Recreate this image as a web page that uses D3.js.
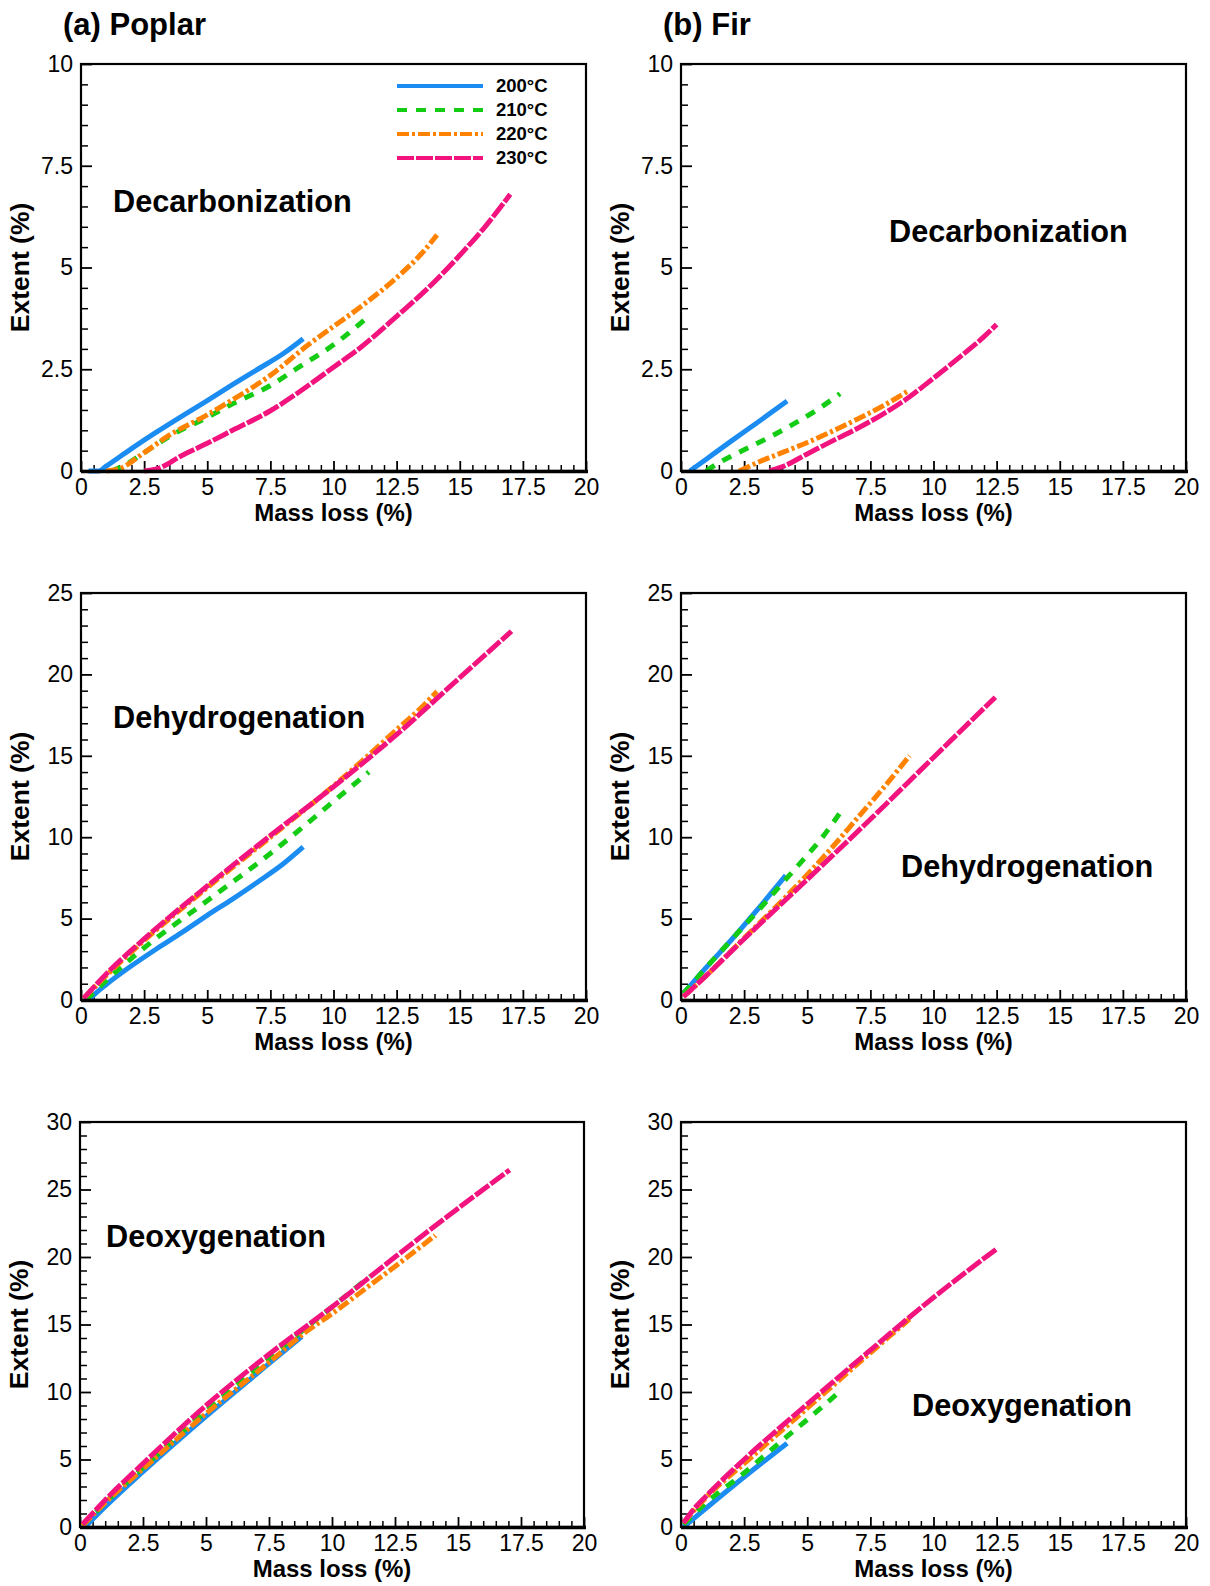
<!DOCTYPE html>
<html>
<head>
<meta charset="utf-8">
<script src="https://cdn.jsdelivr.net/npm/d3@7"></script>
<style>
  html, body { margin: 0; padding: 0; background: #fff; }
  svg { display: block; }
  text { font-family: "Liberation Sans", Arial, Helvetica, sans-serif; fill: #000; }
</style>
</head>
<body>
<svg id="chart" width="1210" height="1586"></svg>
<script>
// ---------------- DATA ----------------
const seriesNames = ["200°C", "210°C", "220°C", "230°C"];
const xTickValues = [0, 2.5, 5, 7.5, 10, 12.5, 15, 17.5, 20];
const xTickLabels = ["0", "2.5", "5", "7.5", "10", "12.5", "15", "17.5", "20"];
const yTicksDecarb = [0, 2.5, 5, 7.5, 10];
const yLabelsDecarb = ["0", "2.5", "5", "7.5", "10"];
const yTicksDehydro = [0, 5, 10, 15, 20, 25];
const yLabelsDehydro = ["0", "5", "10", "15", "20", "25"];
const yTicksDeoxy = [0, 5, 10, 15, 20, 25, 30];
const yLabelsDeoxy = ["0", "5", "10", "15", "20", "25", "30"];

// (mass loss %, extent %)
const poplarDecarb200 = [[0.3,0],[0.7,0],[1.0,0.12],[2.0,0.55],[3.0,0.96],[4.0,1.35],[5.0,1.73],[6.0,2.12],[7.0,2.5],[8.0,2.88],[8.8,3.25]];
const poplarDecarb210 = [[1.2,0],[1.6,0.1],[2.5,0.45],[3.5,0.85],[5.0,1.32],[6.0,1.65],[7.5,2.1],[8.5,2.5],[10.0,3.1],[11.3,3.75]];
const poplarDecarb220 = [[1.0,0],[1.5,0.05],[2.5,0.45],[3.5,0.88],[5.0,1.38],[6.0,1.75],[7.5,2.35],[9.0,3.1],[10.0,3.55],[11.0,4.0],[12.5,4.75],[13.5,5.35],[14.1,5.8]];
const poplarDecarb230 = [[2.5,0],[3.0,0.05],[4.0,0.38],[5.0,0.68],[6.0,1.0],[7.5,1.48],[9.0,2.1],[10.0,2.55],[11.0,3.0],[12.5,3.8],[14.0,4.65],[15.0,5.3],[16.0,6.0],[17.0,6.8]];

const firDecarb200 = [[0.35,0],[1.0,0.29],[2.0,0.74],[3.0,1.18],[4.2,1.72]];
const firDecarb210 = [[1.0,0],[1.5,0.2],[2.5,0.52],[3.5,0.83],[4.5,1.17],[5.5,1.55],[6.3,1.9]];
const firDecarb220 = [[2.3,0],[3.0,0.2],[4.0,0.45],[5.0,0.7],[6.0,0.98],[7.0,1.28],[8.0,1.6],[9.0,1.97]];
const firDecarb230 = [[3.5,0],[4.0,0.1],[5.0,0.42],[6.0,0.74],[7.0,1.05],[8.0,1.4],[9.0,1.8],[10.0,2.28],[11.0,2.78],[12.0,3.3],[12.5,3.6]];

const poplarDehydro200 = [[0.3,0],[0.5,0.3],[1.0,0.95],[2.0,2.1],[3.0,3.15],[4.0,4.15],[5.0,5.2],[6.0,6.2],[7.0,7.25],[8.0,8.35],[8.8,9.4]];
const poplarDehydro210 = [[0.2,0],[1.0,1.2],[2.5,3.2],[5.0,6.1],[7.5,9.0],[9.0,10.9],[10.0,12.2],[11.4,14.0]];
const poplarDehydro220 = [[0.1,0.1],[1.0,1.5],[2.5,3.65],[5.0,6.9],[7.5,10.0],[10.0,13.15],[12.5,16.6],[13.5,18.0],[14.1,18.95]];
const poplarDehydro230 = [[0.1,0.1],[1.0,1.6],[2.5,3.75],[5.0,7.0],[7.5,10.1],[10.0,13.1],[12.5,16.3],[15.0,19.8],[17.05,22.65]];

const firDehydro200 = [[0.1,0.4],[1.0,2.0],[2.0,3.7],[3.0,5.5],[4.15,7.65]];
const firDehydro210 = [[0.1,0.4],[1.0,2.0],[2.0,3.7],[3.0,5.4],[4.2,7.5],[5.0,8.9],[5.5,9.8],[6.3,11.5]];
const firDehydro220 = [[0.1,0.2],[1.0,1.5],[2.5,3.8],[4.0,6.1],[5.0,7.7],[6.0,9.4],[7.0,11.2],[8.0,13.0],[9.05,15.0]];
const firDehydro230 = [[0.1,0.2],[1.0,1.5],[2.5,3.75],[5.0,7.4],[7.5,11.1],[10.0,14.9],[12.45,18.6]];

const poplarDeoxy200 = [[0.2,0],[1.0,1.5],[2.5,4.1],[5.0,8.2],[7.5,12.1],[8.8,14.1]];
const poplarDeoxy210 = [[0.1,0.1],[1.0,1.8],[2.5,4.4],[5.0,8.6],[7.5,12.5],[9.0,14.8],[10.0,16.3],[11.5,18.55]];
const poplarDeoxy220 = [[0.1,0.1],[1.0,1.8],[2.5,4.3],[5.0,8.4],[7.5,12.2],[9.0,14.5],[10.0,15.8],[11.5,17.9],[12.5,19.3],[14.1,21.6]];
const poplarDeoxy230 = [[0.1,0.2],[1.0,2.0],[2.5,4.7],[5.0,9.0],[7.5,12.8],[10.0,16.3],[12.5,20.0],[15.0,23.6],[17.05,26.45]];

const firDeoxy200 = [[0.1,0],[1.0,1.4],[2.5,3.7],[4.2,6.2]];
const firDeoxy210 = [[0.1,0.2],[1.0,1.8],[2.5,4.0],[4.0,6.4],[5.0,7.95],[6.3,10.05]];
const firDeoxy220 = [[0.1,0.3],[0.5,1.2],[1.0,2.2],[2.5,4.7],[5.0,8.8],[7.5,12.9],[9.05,15.4]];
const firDeoxy230 = [[0.1,0.3],[0.5,1.3],[1.0,2.3],[2.5,5.0],[5.0,9.1],[7.5,13.1],[10.0,17.0],[12.5,20.6]];

// ---------------- STYLE ----------------
const colors = ["#1b8cf2", "#14cc14", "#ff8200", "#f2137f"];
const dashes = [null, "10 9", "12 3 3 3", "17 2"];

const panels = [
  { box: [81, 64, 586, 471],   yMax: 10, yT: yTicksDecarb,  yL: yLabelsDecarb,  yMinorStep: 0.5, series: [poplarDecarb200, poplarDecarb210, poplarDecarb220, poplarDecarb230],
    label: "Decarbonization", lx: 113, ly: 212, title: "(a) Poplar", legend: true },
  { box: [681, 64, 1186, 471], yMax: 10, yT: yTicksDecarb,  yL: yLabelsDecarb,  yMinorStep: 0.5, series: [firDecarb200, firDecarb210, firDecarb220, firDecarb230],
    label: "Decarbonization", lx: 889, ly: 242, title: "(b) Fir" },
  { box: [81, 593, 586, 1000], yMax: 25, yT: yTicksDehydro, yL: yLabelsDehydro, yMinorStep: 1, series: [poplarDehydro200, poplarDehydro210, poplarDehydro220, poplarDehydro230],
    label: "Dehydrogenation", lx: 113, ly: 728 },
  { box: [681, 593, 1186, 1000], yMax: 25, yT: yTicksDehydro, yL: yLabelsDehydro, yMinorStep: 1, series: [firDehydro200, firDehydro210, firDehydro220, firDehydro230],
    label: "Dehydrogenation", lx: 901, ly: 877 },
  { box: [80, 1122, 584, 1527], yMax: 30, yT: yTicksDeoxy, yL: yLabelsDeoxy, yMinorStep: 1, series: [poplarDeoxy200, poplarDeoxy210, poplarDeoxy220, poplarDeoxy230],
    label: "Deoxygenation", lx: 106, ly: 1247 },
  { box: [681, 1122, 1186, 1527], yMax: 30, yT: yTicksDeoxy, yL: yLabelsDeoxy, yMinorStep: 1, series: [firDeoxy200, firDeoxy210, firDeoxy220, firDeoxy230],
    label: "Deoxygenation", lx: 912, ly: 1416 }
];

const svg = d3.select("#chart");
svg.append("rect").attr("width", 1210).attr("height", 1586).attr("fill", "#fff");

panels.forEach(p => {
  const [x0, y0, x1, y1] = p.box;
  const x = d3.scaleLinear().domain([0, 20]).range([x0, x1]);
  const y = d3.scaleLinear().domain([0, p.yMax]).range([y1, y0]);
  const g = svg.append("g");

  // minor ticks
  const xMinor = d3.range(0, 20.001, 0.5).filter(v => !xTickValues.includes(v));
  const yMinor = d3.range(0, p.yMax + 0.001, p.yMinorStep).filter(v => !p.yT.some(t => Math.abs(t - v) < 1e-6));

  g.append("g").attr("transform", `translate(0,${y1})`)
    .call(d3.axisBottom(x).tickValues(xMinor).tickSizeInner(-6).tickSizeOuter(0).tickFormat(""))
    .call(s => s.select(".domain").remove())
    .call(s => s.selectAll("line").attr("stroke-width", 1.5));
  g.append("g").attr("transform", `translate(${x0},0)`)
    .call(d3.axisLeft(y).tickValues(yMinor).tickSizeInner(-7).tickSizeOuter(0).tickFormat(""))
    .call(s => s.select(".domain").remove())
    .call(s => s.selectAll("line").attr("stroke-width", 1.5));

  // major ticks + labels
  g.append("g").attr("transform", `translate(0,${y1})`)
    .call(d3.axisBottom(x).tickValues(xTickValues).tickSizeInner(-10).tickSizeOuter(0).tickPadding(8)
      .tickFormat((d, i) => xTickLabels[i]))
    .call(s => s.select(".domain").remove())
    .call(s => s.selectAll("line").attr("stroke-width", 1.8))
    .call(s => s.selectAll("text").attr("font-size", 23).attr("font-family", '"Liberation Sans", Arial, sans-serif').attr("fill", "#000"));
  g.append("g").attr("transform", `translate(${x0},0)`)
    .call(d3.axisLeft(y).tickValues(p.yT).tickSizeInner(-11).tickSizeOuter(0).tickPadding(8)
      .tickFormat((d, i) => p.yL[i]))
    .call(s => s.select(".domain").remove())
    .call(s => s.selectAll("line").attr("stroke-width", 1.8))
    .call(s => s.selectAll("text").attr("font-size", 23).attr("font-family", '"Liberation Sans", Arial, sans-serif').attr("fill", "#000"));

  // curves
  const line = d3.line().x(d => x(d[0])).y(d => y(d[1])).curve(d3.curveMonotoneX);
  p.series.forEach((s, i) => {
    g.append("path").datum(s)
      .attr("d", line)
      .attr("fill", "none")
      .attr("stroke", colors[i])
      .attr("stroke-width", 5)
      .attr("stroke-dasharray", dashes[i])
      .attr("stroke-linecap", "butt")
      .attr("stroke-linejoin", "round");
  });

  // frame
  g.append("rect").attr("x", x0).attr("y", y0).attr("width", x1 - x0).attr("height", y1 - y0)
    .attr("fill", "none").attr("stroke", "#000").attr("stroke-width", 2.2);
  g.append("line").attr("x1", x0).attr("x2", x1 + 2).attr("y1", y1 + 0.5).attr("y2", y1 + 0.5)
    .attr("stroke", "#000").attr("stroke-width", 3.5);

  // axis titles
  g.append("text").attr("x", (x0 + x1) / 2).attr("y", y1 + 50)
    .attr("text-anchor", "middle").attr("font-size", 24).attr("font-weight", "bold")
    .text("Mass loss (%)");
  g.append("text").attr("transform", `translate(${x0 - 52},${(y0 + y1) / 2}) rotate(-90)`)
    .attr("text-anchor", "middle").attr("font-size", 26.5).attr("font-weight", "bold")
    .text("Extent (%)");

  // annotation
  g.append("text").attr("x", p.lx).attr("y", p.ly)
    .attr("font-size", 30.7).attr("font-weight", "bold").text(p.label);

  if (p.title) {
    g.append("text").attr("x", x0 - 18).attr("y", 35)
      .attr("font-size", 31).attr("font-weight", "bold").text(p.title);
  }

  if (p.legend) {
    const lg = g.append("g");
    const rowY = [86, 110, 134, 158];
    seriesNames.forEach((name, i) => {
      lg.append("line").attr("x1", 397).attr("x2", 483).attr("y1", rowY[i]).attr("y2", rowY[i])
        .attr("stroke", colors[i]).attr("stroke-width", 4)
        .attr("stroke-dasharray", dashes[i]);
      lg.append("text").attr("x", 496).attr("y", rowY[i] + 6)
        .attr("font-size", 18.5).attr("font-weight", "bold").text(name);
    });
  }
});
</script>
</body>
</html>
